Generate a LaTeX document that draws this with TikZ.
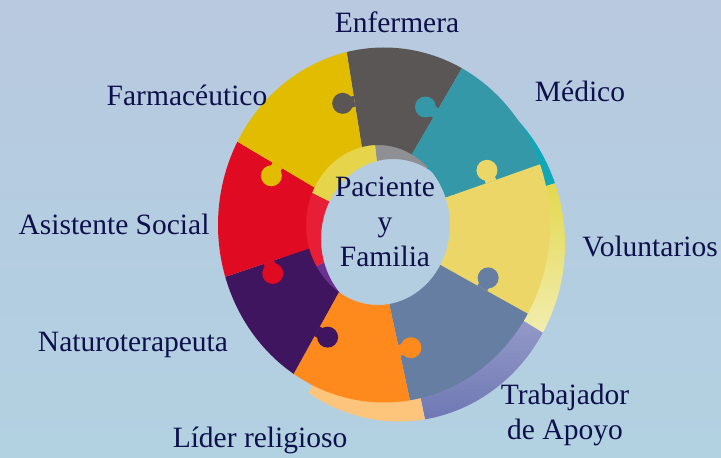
\documentclass[tikz,border=0pt]{standalone}
\usepackage{fontspec}
\setmainfont{Liberation Serif}
\usetikzlibrary{calc}

\definecolor{fondoA}{HTML}{B8C9E0}
\definecolor{fondoB}{HTML}{B2D1E1}
\definecolor{letra}{HTML}{0E104C}
% caras de las piezas
\definecolor{enfC}{HTML}{5A5656}
\definecolor{medC}{HTML}{3598A8}
\definecolor{volC}{HTML}{EDD668}
\definecolor{traC}{HTML}{667EA2}
\definecolor{lidC}{HTML}{FE8A1E}
\definecolor{natC}{HTML}{40155F}
\definecolor{asiC}{HTML}{E00A22}
\definecolor{farC}{HTML}{E1BC00}
% cantos (lado claro)
\definecolor{enfL}{HTML}{8F9093}
\definecolor{medL}{HTML}{10A8B8}
\definecolor{volLa}{HTML}{E3D84E}
\definecolor{volLb}{HTML}{F2EDB0}
\definecolor{traLa}{HTML}{A2A7D0}
\definecolor{traLb}{HTML}{6F78B4}
\definecolor{lidL}{HTML}{FDC47C}
\definecolor{natL}{HTML}{6B3191}
\definecolor{asiL}{HTML}{E71E35}
\definecolor{farL}{HTML}{E6D54A}

\tikzset{
  etiqueta/.style={text=letra, font=\fontsize{29.5}{35}\selectfont, inner sep=0pt},
}

% sector del anillo: angulo inicial, angulo final, centro exterior, centro interior, radios exteriores
\newcommand{\trozo}[6]{($(#3)+(#1:#5pt and #6pt)$) arc[start angle=#1, end angle=#2, x radius=#5pt, y radius=#6pt] -- ($(#4)+(#2:72pt and 80pt)$) arc[start angle=#2, end angle=#1, x radius=72pt, y radius=80pt] -- cycle}

% pestana en la costura: angulo, color
\newcommand{\pestana}[2]{%
  \coordinate (pin) at ($(ci)+(#1:72pt and 80pt)$);
  \coordinate (pout) at ($(co)+(#1:166pt and 177.5pt)$);
  \coordinate (pmid) at ($(pin)!0.48!(pout)$);
  \coordinate (ptab) at ($(pmid)!12pt!90:(pout)$);
  \draw[#2, line width=11pt] (pmid) -- (ptab);
  \fill[#2] (ptab) circle[radius=10.5pt];}

\begin{document}
\begin{tikzpicture}[x=1pt, y=1pt]
	\shade[top color=fondoA, bottom color=fondoB] (0,0) rectangle (721,458);
	\useasboundingbox (0,0) rectangle (721,458);

	\coordinate (co) at (384,233);
	\coordinate (ci) at (378,233);
	\coordinate (cob) at (399,214);
	\coordinate (cib) at (393,219);

	% canto inferior del anillo
	\fill[enfL] \trozo{62}{103}{cob}{cib}{120}{130};
	\fill[medL] \trozo{20}{62}{cob}{cib}{166}{177.5};
	\shade[top color=volLa, bottom color=volLb] \trozo{-30}{20}{cob}{cib}{166}{177.5};
	\shade[top color=traLa, bottom color=traLb] \trozo{-81}{-30}{cob}{cib}{166}{177.5};
	\fill[lidL] \trozo{-123}{-81}{cob}{cib}{166}{177.5};
	\fill[natL] \trozo{-163}{-123}{cob}{cib}{120}{130};
	\fill[asiL] \trozo{-208}{-163}{cob}{cib}{120}{130};
	\fill[farL] \trozo{103}{152}{cob}{cib}{120}{130};

	% caras
	\fill[enfC] \trozo{62}{103}{co}{ci}{166}{177.5};
	\fill[medC] \trozo{20}{62}{co}{ci}{166}{177.5};
	\fill[volC] \trozo{-30}{20}{co}{ci}{166}{177.5};
	\fill[traC] \trozo{-81}{-30}{co}{ci}{166}{177.5};
	\fill[lidC] \trozo{-123}{-81}{co}{ci}{166}{177.5};
	\fill[natC] \trozo{-163}{-123}{co}{ci}{166}{177.5};
	\fill[asiC] \trozo{-208}{-163}{co}{ci}{166}{177.5};
	\fill[farC] \trozo{103}{152}{co}{ci}{166}{177.5};

	% pestanas
	\pestana{103}{enfC}
	\pestana{62}{medC}
	\pestana{20}{volC}
	\pestana{-30}{traC}
	\pestana{-81}{lidC}
	\pestana{-123}{natC}
	\pestana{-163}{asiC}
	\pestana{152}{farC}

	\node[etiqueta, anchor=base] (enfermera) at (397,425) {Enfermera};
	\node[etiqueta, anchor=base] (medico) at (580,356) {Médico};
	\node[etiqueta, anchor=base] (farmaceutico) at (187,352) {Farmacéutico};
	\node[etiqueta, anchor=base] (asistente) at (114,223) {Asistente Social};
	\node[etiqueta, anchor=base] (voluntarios) at (650,201) {Voluntarios};
	\node[etiqueta, anchor=base] (naturo) at (133,106) {Naturoterapeuta};
	\node[etiqueta, anchor=base] (lider) at (260,10) {Líder religioso};
	\node[etiqueta, anchor=base, align=center] (trabajador) at (565,18) {Trabajador\\de Apoyo};
	\node[etiqueta, anchor=base, align=center] (paciente) at (385,191) {Paciente\\y\\Familia};
\end{tikzpicture}
\end{document}
